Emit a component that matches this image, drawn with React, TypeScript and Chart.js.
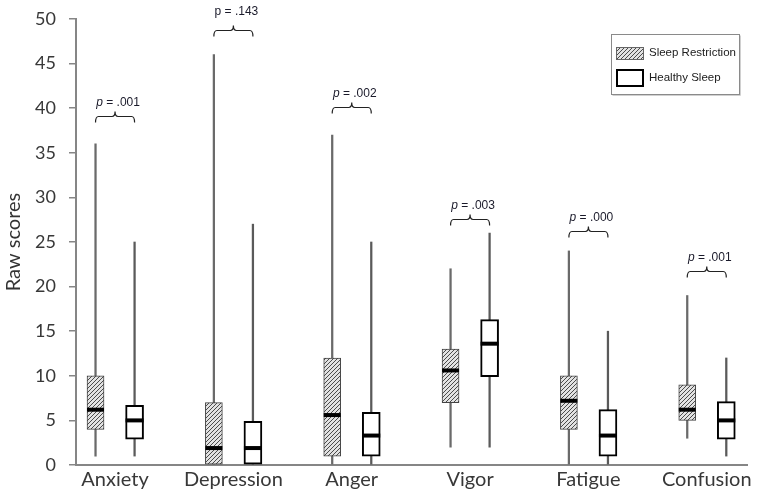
import React, { useEffect, useRef } from 'react';
import { Chart, registerables } from 'chart.js';

Chart.register(...registerables);

// ---------- data ----------
const categories = ['Anxiety', 'Depression', 'Anger', 'Vigor', 'Fatigue', 'Confusion'];

const srMin = [1, 0, 0, 2, 0, 3];
const srQ1 = [4, 0, 1, 7, 4, 5];
const srMedian = [6.2, 1.9, 5.6, 10.6, 7.2, 6.2];
const srQ3 = [10, 7, 12, 13, 10, 9];
const srMax = [36, 46, 37, 22, 24, 19];

const hsMin = [1, 0, 0, 2, 0, 1];
const hsQ1 = [2.9, 0, 1, 9.9, 1, 2.9];
const hsMedian = [5, 1.9, 3.3, 13.6, 3.3, 5];
const hsQ3 = [6.7, 4.9, 5.9, 16.3, 6.2, 7.1];
const hsMax = [25, 27, 25, 26, 15, 12];

const pValues = ['.001', '.143', '.002', '.003', '.000', '.001'];
const pItalic = [true, false, true, true, true, true];
const bracketLevels = [39.1, 48.8, 40.1, 27.6, 26.2, 21.7];

const yTicks = [0, 5, 10, 15, 20, 25, 30, 35, 40, 45, 50];

const seriesNames = ['Sleep Restriction', 'Healthy Sleep'];

// ---------- style ----------
const OFF = 0.165;
const AXIS_COLOR = '#868686';
const TEXT_COLOR = '#383838';

function makeHatch(): CanvasPattern | string {
  const c = document.createElement('canvas');
  c.width = 4;
  c.height = 4;
  const g = c.getContext('2d');
  if (!g) return '#bbb';
  g.fillStyle = '#e2e2e2';
  g.fillRect(0, 0, 4, 4);
  g.strokeStyle = '#3a3a3a';
  g.lineWidth = 0.9;
  g.beginPath();
  g.moveTo(0, 4); g.lineTo(4, 0);
  g.moveTo(-1, 1); g.lineTo(1, -1);
  g.moveTo(3, 5); g.lineTo(5, 3);
  g.stroke();
  return g.createPattern(c, 'repeat') || '#bbb';
}

export default function App() {
  const ref = useRef<HTMLCanvasElement | null>(null);

  useEffect(() => {
    if (!ref.current) return;
    const hatch = makeHatch();

    const boxPlugin = {
      id: 'boxExtras',
      afterDatasetsDraw(chart: any) {
        const { ctx, scales } = chart;
        const xs = scales.x;
        const ys = scales.y;
        ctx.save();
        ctx.strokeStyle = '#000';
        ctx.lineWidth = 4;
        categories.forEach((_, i) => {
          [[i - OFF, srMedian[i], 8.5], [i + OFF, hsMedian[i], 9]].forEach(([xv, mv, hw]) => {
            const x = xs.getPixelForValue(xv);
            const y = ys.getPixelForValue(mv);
            ctx.beginPath();
            ctx.moveTo(x - hw, y);
            ctx.lineTo(x + hw, y);
            ctx.stroke();
          });
        });
        ctx.restore();
      },
      afterDraw(chart: any) {
        const { ctx, scales } = chart;
        const xs = scales.x;
        const ys = scales.y;
        ctx.save();
        // brackets + p values
        categories.forEach((_, i) => {
          const x1 = xs.getPixelForValue(i - OFF);
          const x2 = xs.getPixelForValue(i + OFF);
          const y = Math.round(ys.getPixelForValue(bracketLevels[i])) + 0.5;
          const mid = (x1 + x2) / 2;
          ctx.strokeStyle = '#222';
          ctx.lineWidth = 1.2;
          ctx.beginPath();
          ctx.moveTo(x1, y + 6);
          ctx.quadraticCurveTo(x1, y, x1 + 3, y);
          ctx.lineTo(mid - 3, y);
          ctx.quadraticCurveTo(mid, y, mid, y - 5);
          ctx.quadraticCurveTo(mid, y, mid + 3, y);
          ctx.lineTo(x2 - 3, y);
          ctx.quadraticCurveTo(x2, y, x2, y + 6);
          ctx.stroke();

          ctx.fillStyle = '#1a1a2a';
          ctx.textBaseline = 'middle';
          ctx.textAlign = 'left';
          const pFont = (pItalic[i] ? 'italic ' : '') + '12px "Liberation Sans", Arial, sans-serif';
          const restFont = '12px "Liberation Sans", Arial, sans-serif';
          ctx.font = pFont;
          const wp = ctx.measureText('p').width;
          ctx.font = restFont;
          const rest = ' = ' + pValues[i];
          const wr = ctx.measureText(rest).width;
          const tx = mid + 3 - (wp + wr) / 2;
          const ty = y - (pItalic[i] ? 14 : 19);
          ctx.font = pFont;
          ctx.fillText('p', tx, ty);
          ctx.font = restFont;
          ctx.fillText(rest, tx + wp, ty);
        });

        // legend
        const lx = 611, ly = 34, lw = 128, lh = 60;
        ctx.fillStyle = '#fff';
        ctx.fillRect(lx, ly, lw, lh);
        ctx.strokeStyle = '#d0d0d0';
        ctx.lineWidth = 1;
        ctx.beginPath();
        ctx.moveTo(lx + 1.5, ly + lh + 1.5);
        ctx.lineTo(lx + lw + 1.5, ly + lh + 1.5);
        ctx.lineTo(lx + lw + 1.5, ly + 1.5);
        ctx.stroke();
        ctx.strokeStyle = '#8a8a8a';
        ctx.strokeRect(lx + 0.5, ly + 0.5, lw, lh);

        ctx.fillStyle = hatch as any;
        ctx.fillRect(616, 47, 28, 13);
        ctx.strokeStyle = '#666';
        ctx.lineWidth = 1;
        ctx.strokeRect(616.5, 47.5, 27, 12);

        ctx.fillStyle = '#fff';
        ctx.fillRect(617, 70, 26, 16);
        ctx.strokeStyle = '#000';
        ctx.lineWidth = 2;
        ctx.strokeRect(617, 70, 26, 16);

        ctx.fillStyle = '#202020';
        ctx.font = '11.5px "Liberation Sans", Arial, sans-serif';
        ctx.textAlign = 'left';
        ctx.textBaseline = 'middle';
        ctx.fillText(seriesNames[0], 649, 53);
        ctx.fillText(seriesNames[1], 649, 78);
        ctx.restore();
      },
    };

    const chart = new Chart(ref.current, {
      type: 'bar',
      data: {
        datasets: [
          {
            label: seriesNames[0] + ' range',
            data: categories.map((_, i) => ({ x: i - OFF, y: [srMin[i], srMax[i]] })) as any,
            backgroundColor: '#6a6a6a',
            barThickness: 1.6,
            grouped: false,
            order: 3,
          },
          {
            label: seriesNames[1] + ' range',
            data: categories.map((_, i) => ({ x: i + OFF, y: [hsMin[i], hsMax[i]] })) as any,
            backgroundColor: '#5a5a5a',
            barThickness: 1.6,
            grouped: false,
            order: 3,
          },
          {
            label: seriesNames[0],
            data: categories.map((_, i) => ({ x: i - OFF, y: [srQ1[i], srQ3[i]] })) as any,
            backgroundColor: hatch as any,
            borderColor: '#444',
            borderWidth: 1,
            borderSkipped: false,
            barThickness: 17,
            grouped: false,
            order: 1,
          },
          {
            label: seriesNames[1],
            data: categories.map((_, i) => ({ x: i + OFF, y: [hsQ1[i], hsQ3[i]] })) as any,
            backgroundColor: '#fff',
            borderColor: '#000',
            borderWidth: 2,
            borderSkipped: false,
            barThickness: 18,
            grouped: false,
            order: 1,
          },
        ],
      },
      options: {
        animation: false,
        responsive: false,
        events: [],
        layout: { padding: { left: 0, top: 19, right: 15, bottom: 0 } },
        plugins: {
          legend: { display: false },
          tooltip: { enabled: false },
        },
        scales: {
          x: {
            type: 'linear',
            offset: false,
            min: -0.33,
            max: 5.34,
            afterBuildTicks: (s: any) => {
              s.ticks = categories.map((_, i) => ({ value: i }));
            },
            afterFit: (s: any) => {
              s.height = 31;
              s.paddingLeft = 0;
              s.paddingRight = 0;
            },
            ticks: {
              callback: (v: any) => categories[Math.round(Number(v))] ?? '',
              font: { family: 'Lato', size: 20 },
              color: TEXT_COLOR,
              padding: 3,
              maxRotation: 0,
              autoSkip: false,
            },
            grid: { display: false, drawTicks: false },
            border: { display: true, color: AXIS_COLOR, width: 2 },
          },
          y: {
            min: 0,
            max: 50,
            afterBuildTicks: (s: any) => {
              s.ticks = yTicks.map((v) => ({ value: v }));
            },
            afterFit: (s: any) => {
              s.width = 76;
              s.paddingTop = 0;
              s.paddingBottom = 0;
            },
            ticks: {
              font: { family: 'Lato', size: 18 },
              color: TEXT_COLOR,
              padding: 13,
            },
            grid: {
              drawOnChartArea: false,
              drawTicks: true,
              tickLength: 7,
              color: AXIS_COLOR,
              lineWidth: 1.5,
            },
            border: { display: true, color: AXIS_COLOR, width: 2 },
            title: {
              display: true,
              text: 'Raw scores',
              font: { family: 'Lato', size: 20 },
              color: '#333',
              padding: { top: 2, bottom: 0 },
            },
          },
        },
      },
      plugins: [boxPlugin],
    } as any);

    return () => chart.destroy();
  }, []);

  return (
    <div style={{ position: 'fixed', left: 0, top: 0, width: 762, height: 496, background: '#fff' }}>
      <canvas ref={ref} width={762} height={496} style={{ display: 'block' }} />
    </div>
  );
}
